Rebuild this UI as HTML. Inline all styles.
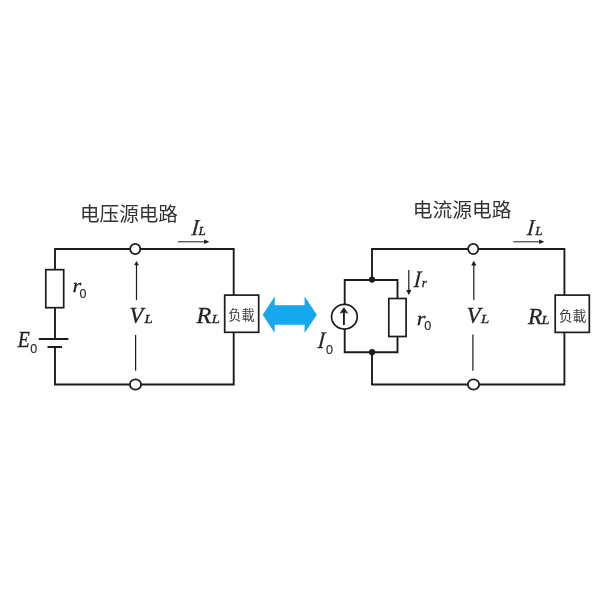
<!DOCTYPE html>
<html lang="zh">
<head>
<meta charset="utf-8">
<title>电压源电路 / 电流源电路</title>
<style>
html,body{margin:0;padding:0;background:#fff;}
body{width:600px;height:600px;overflow:hidden;font-family:"Liberation Serif",serif;}
svg{display:block;}
</style>
</head>
<body>
<svg width="600" height="600" viewBox="0 0 600 600">
<defs><filter id="soft" x="0" y="0" width="600" height="600" filterUnits="userSpaceOnUse"><feGaussianBlur stdDeviation="0.4"/></filter></defs>
<rect width="600" height="600" fill="#fff"/>
<g filter="url(#soft)">
<text x="80" y="220.6" font-family="'Liberation Sans','Noto Sans CJK SC',sans-serif" font-size="19.6" fill="#333">电压源电路</text>
<text x="412.7" y="216.7" font-family="'Liberation Sans','Noto Sans CJK SC',sans-serif" font-size="19.8" fill="#333">电流源电路</text>
<g fill="none" stroke="#1c1c1c" stroke-width="1.9" stroke-linecap="butt" stroke-linejoin="miter">
<path d="M55 269.7 V249 H130 M140.6 249 H233.7 V295 M233.7 332.5 V384.5 H141.3 M129.7 384.5 H55 V347 M55 339 V307.5"/>
<rect x="45.8" y="269.7" width="17.9" height="38" stroke-width="1.7"/>
<path d="M38.8 339 H68.4 M47.5 347 H62"/>
<circle cx="135.2" cy="249" r="5.1" stroke-width="1.8"/>
<ellipse cx="135.5" cy="384.5" rx="5.65" ry="5.05" stroke-width="1.8"/>
<rect x="224.7" y="295.1" width="34" height="37.2" stroke-width="1.7"/>
</g>
<g fill="none" stroke="#1c1c1c" stroke-width="1.9">
<path d="M372 279.5 V249 H467.9 M478.5 249 H564.4 V295 M564.4 332.5 V384.5 H479.3 M467.7 384.5 H372 V352.2"/>
<path d="M344.7 304.4 V280 H397.5 V298.5 M397.5 336.6 V352.2 H344.7 V329"/>
<ellipse cx="344.4" cy="316.75" rx="12.85" ry="12.3" stroke-width="1.7"/>
<rect x="388.8" y="298.5" width="17.3" height="38" stroke-width="1.7"/>
<circle cx="473.2" cy="249" r="5.1" stroke-width="1.8"/>
<ellipse cx="473.5" cy="384.5" rx="5.65" ry="5.05" stroke-width="1.8"/>
<rect x="555.2" y="295.1" width="34.1" height="37.3" stroke-width="1.7"/>
</g>
<circle cx="372" cy="279.6" r="3.1" fill="#1c1c1c"/>
<circle cx="372.1" cy="352.2" r="3.1" fill="#1c1c1c"/>
<path d="M343.9 325 V311" stroke="#1c1c1c" stroke-width="1.9" fill="none"/>
<path d="M343.9 307.6 L347.8 313.2 L343.9 312 L340 313.2 Z" fill="#1c1c1c" stroke="#1c1c1c" stroke-width="0.5" stroke-linejoin="round"/>
<path d="M178 241.8 H204.70000000000002" stroke="#1c1c1c" stroke-width="1.0" fill="none"/><path d="M209.4 241.8 L204.20000000000002 239.5 L204.20000000000002 244.10000000000002 Z" fill="#1c1c1c"/>
<path d="M513.3 241.8 H539.5999999999999" stroke="#1c1c1c" stroke-width="1.0" fill="none"/><path d="M544.3 241.8 L539.0999999999999 239.5 L539.0999999999999 244.10000000000002 Z" fill="#1c1c1c"/>
<path d="M136.5 264.7 V300" stroke="#1c1c1c" stroke-width="1.2" fill="none"/><path d="M136.5 260.9 L134.1 265.2 L138.9 265.2 Z" fill="#1c1c1c"/>
<path d="M135.6 335 V370.8" stroke="#1c1c1c" stroke-width="1.2" fill="none"/>
<path d="M473.8 264.90000000000003 V300" stroke="#1c1c1c" stroke-width="1.2" fill="none"/><path d="M473.8 260.8 L471.2 265.40000000000003 L476.40000000000003 265.40000000000003 Z" fill="#1c1c1c"/>
<path d="M472.9 334.5 V370.8" stroke="#1c1c1c" stroke-width="1.2" fill="none"/>
<path d="M408.8 270 V290.6" stroke="#1c1c1c" stroke-width="1.2" fill="none"/><path d="M408.8 295.1 L406.2 290.1 L411.40000000000003 290.1 Z" fill="#1c1c1c"/>
<path fill="#12a8ec" d="M262.7 314.8 L274.7 296.6 V305.2 H304.6 V296.6 L316.8 314.8 L304.6 333.1 V324.7 H274.7 V333.1 Z"/>
<text x="228.3" y="320.4" font-family="'Liberation Sans','Noto Sans CJK JP',sans-serif" font-size="13.2" fill="#3a3a3a">负載</text>
<text x="558.7" y="320.5" font-family="'Liberation Sans','Noto Sans CJK JP',sans-serif" font-size="13.8" fill="#3a3a3a">负載</text>
<text transform="translate(72.5 291.9) scale(1 0.86) skewX(0)" font-family="Liberation Serif" font-style="italic" font-size="22.5" fill="#222" stroke="#222" stroke-width="0.3">r</text>
<text x="79.4" y="297.5" font-family="Liberation Sans" font-size="12.5" fill="#2a2a2a" stroke="#2a2a2a" stroke-width="0.15">0</text>
<text transform="translate(17.8 346.8) scale(0.88 1) skewX(0)" font-family="Liberation Serif" font-style="italic" font-size="22.5" fill="#222" stroke="#222" stroke-width="0.3">E</text>
<text x="30.2" y="352.8" font-family="Liberation Sans" font-size="12.5" fill="#2a2a2a" stroke="#2a2a2a" stroke-width="0.15">0</text>
<text transform="translate(129.6 322.6) scale(1 1) skewX(0)" font-family="Liberation Serif" font-style="italic" font-size="22.5" fill="#222" stroke="#222" stroke-width="0.3">V</text>
<text transform="translate(144.4 322.7) scale(1.12 1) skewX(0)" font-family="Liberation Serif" font-style="italic" font-size="13.2" fill="#222" stroke="#222" stroke-width="0.3">L</text>
<text transform="translate(191.2 234.9) scale(0.88 1) skewX(-7)" font-family="Liberation Serif" font-style="italic" font-size="22.5" fill="#222" stroke="#222" stroke-width="0.3">I</text>
<text transform="translate(198.6 234.8) scale(1 1) skewX(0)" font-family="Liberation Serif" font-style="italic" font-size="13.2" fill="#222" stroke="#222" stroke-width="0.3">L</text>
<text transform="translate(196.6 323.3) scale(1.08 1) skewX(0)" font-family="Liberation Serif" font-style="italic" font-size="22.5" fill="#222" stroke="#222" stroke-width="0.3">R</text>
<text transform="translate(211.8 323.3) scale(1.1 1) skewX(0)" font-family="Liberation Serif" font-style="italic" font-size="13.2" fill="#222" stroke="#222" stroke-width="0.3">L</text>
<text transform="translate(317.5 348.1) scale(0.88 1.06) skewX(-7)" font-family="Liberation Serif" font-style="italic" font-size="22.5" fill="#222" stroke="#222" stroke-width="0.3">I</text>
<text x="326.1" y="353.6" font-family="Liberation Sans" font-size="12.5" fill="#2a2a2a" stroke="#2a2a2a" stroke-width="0.15">0</text>
<text transform="translate(413.4 287.3) scale(0.9 1.06) skewX(-6)" font-family="Liberation Serif" font-style="italic" font-size="22.5" fill="#222" stroke="#222" stroke-width="0.3">I</text>
<text transform="translate(421.8 287.2) scale(1 1) skewX(0)" font-family="Liberation Serif" font-style="italic" font-size="13" fill="#222" stroke="#222" stroke-width="0.3">r</text>
<text transform="translate(416.7 324.7) scale(1 0.88) skewX(0)" font-family="Liberation Serif" font-style="italic" font-size="22.5" fill="#222" stroke="#222" stroke-width="0.3">r</text>
<text x="424.2" y="330.1" font-family="Liberation Sans" font-size="12.5" fill="#2a2a2a" stroke="#2a2a2a" stroke-width="0.15">0</text>
<text transform="translate(466.8 322.9) scale(1 1) skewX(0)" font-family="Liberation Serif" font-style="italic" font-size="22.5" fill="#222" stroke="#222" stroke-width="0.3">V</text>
<text transform="translate(481 322.9) scale(1.12 1) skewX(0)" font-family="Liberation Serif" font-style="italic" font-size="13.2" fill="#222" stroke="#222" stroke-width="0.3">L</text>
<text transform="translate(526.8 234.9) scale(0.88 1.01) skewX(-7)" font-family="Liberation Serif" font-style="italic" font-size="22.5" fill="#222" stroke="#222" stroke-width="0.3">I</text>
<text transform="translate(535.2 234.8) scale(1 1) skewX(0)" font-family="Liberation Serif" font-style="italic" font-size="13.2" fill="#222" stroke="#222" stroke-width="0.3">L</text>
<text transform="translate(527.9 323.5) scale(1.04 1) skewX(0)" font-family="Liberation Serif" font-style="italic" font-size="22.5" fill="#222" stroke="#222" stroke-width="0.3">R</text>
<text transform="translate(541.6 323.5) scale(1.1 1) skewX(0)" font-family="Liberation Serif" font-style="italic" font-size="13.2" fill="#222" stroke="#222" stroke-width="0.3">L</text>
</g>
</svg>
</body>
</html>
